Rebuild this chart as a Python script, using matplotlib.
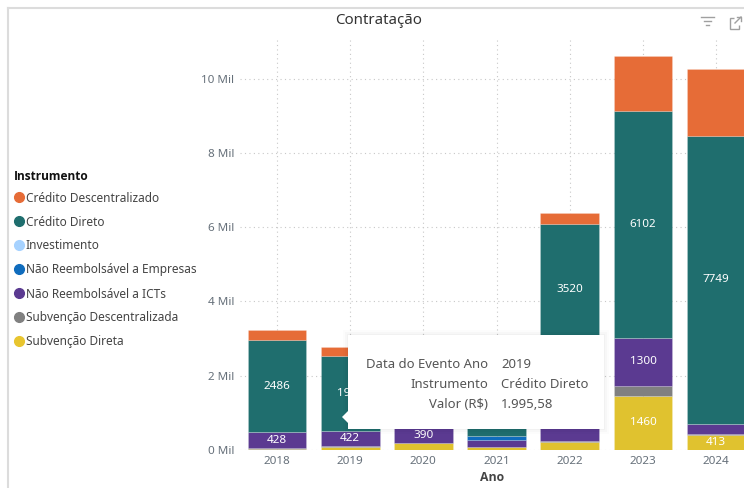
import matplotlib
matplotlib.use("Agg")
import matplotlib.pyplot as plt
from matplotlib.lines import Line2D
from matplotlib.patches import Polygon, Rectangle

plt.rcParams['font.family'] = ['Noto Sans', 'DejaVu Sans']

# -----------------------------------
# DATA (values in R$ mil)
# -----------------------------------
anos = ['2018', '2019', '2020', '2021', '2022', '2023', '2024']
instrumentos = ['Subvenção Direta', 'Subvenção Descentralizada', 'Não Reembolsável a ICTs',
                'Não Reembolsável a Empresas', 'Investimento', 'Crédito Direto',
                'Crédito Descentralizado']
sub_direta = [25, 80, 180, 80, 220, 1460, 413]
sub_descentralizada = [25, 20, 20, 10, 20, 260, 10]
nr_icts = [428, 422, 390, 170, 2320, 1300, 290]
nr_empresas = [0, 0, 0, 110, 0, 0, 0]
investimento = [0, 0, 0, 10, 0, 0, 0]
credito_direto = [2486, 1996, 1950, 1200, 3520, 6102, 7749]
credito_descentralizado = [266, 250, 300, 200, 310, 1490, 1790]

series = [sub_direta, sub_descentralizada, nr_icts, nr_empresas, investimento,
          credito_direto, credito_descentralizado]
cores = ['#E0C22F', '#808080', '#5B3A91', '#0F6CBD', '#A6D2FF', '#1F6E6E', '#E66C37']

rotulos_direta = ['', '', '', '', '', '1460', '413']
rotulos_icts = ['428', '422', '390', '', '', '1300', '']
rotulos_credito = ['2486', '1996', '', '', '3520', '6102', '7749']

yticks = [0, 2000, 4000, 6000, 8000, 10000]
ylabels = ['0 Mil', '2 Mil', '4 Mil', '6 Mil', '8 Mil', '10 Mil']

legenda = ['Crédito Descentralizado', 'Crédito Direto', 'Investimento',
           'Não Reembolsável a Empresas', 'Não Reembolsável a ICTs',
           'Subvenção Descentralizada', 'Subvenção Direta']
cores_legenda = ['#E66C37', '#1F6E6E', '#A6D2FF', '#0F6CBD', '#5B3A91', '#808080', '#E8C52F']

W, H = 744, 488


# pixel to figure coordinates
def fx(x):
    return x / W


def fy(y):
    return 1 - y / H


fig = plt.figure(figsize=(W / 100, H / 100), dpi=100)
ax = fig.add_axes([fx(240), fy(450), fx(744 - 240), (450 - 40) / H])

# -----------------------------------
# Stacked bars
# -----------------------------------
pos = list(range(len(anos)))
base = [0] * len(anos)
barras = []
for valores, cor in zip(series, cores):
    b = ax.bar(pos, valores, 0.805, bottom=base, color=cor, edgecolor='#ffffff33',
               linewidth=0.6, zorder=3)
    barras.append(b)
    base = [a + v for a, v in zip(base, valores)]

for b, rot in zip([barras[0], barras[2], barras[5]], [rotulos_direta, rotulos_icts, rotulos_credito]):
    ax.bar_label(b, labels=rot, label_type='center', color='white', fontsize=8.4, zorder=4)

ax.set_xlim(-0.505, 6.38)
ax.set_ylim(0, 11040)
ax.set_xticks(pos, anos)
ax.set_yticks(yticks, ylabels)
ax.tick_params(length=0, labelsize=8.4, labelcolor='#66707a', pad=4)
for t in ax.get_yticklabels():
    t.set_y(t.get_position()[1])
ax.grid(True, color='#c8c8c8', linestyle=(0, (1, 3)), linewidth=0.8, zorder=0)
ax.set_axisbelow(True)
for s in ax.spines.values():
    s.set_visible(False)
ax.set_xlabel('Ano', fontsize=8.8, fontweight='bold', family='Open Sans', color='#444444', labelpad=3)

# -----------------------------------
# Visual frame and title
# -----------------------------------
fig.add_artist(Line2D([fx(8), fx(744)], [fy(8), fy(8)], color='#dcdcdc', lw=1.5))
fig.add_artist(Line2D([fx(8), fx(8)], [fy(8), fy(488)], color='#dcdcdc', lw=1.5))
fig.text(fx(379), fy(20), 'Contratação', ha='center', va='center', fontsize=10.8, color='#333333')

# filter icon
for x0, x1, y in [(701, 714, 17), (704, 711, 21), (706, 709, 25)]:
    fig.add_artist(Line2D([fx(x0), fx(x1)], [fy(y), fy(y)], color='#a0a0a0', lw=1))
# expand icon
fig.add_artist(Polygon([(fx(739), fy(25)), (fx(739), fy(29)), (fx(730), fy(29)), (fx(730), fy(18)),
                        (fx(734), fy(18))], closed=False, fill=False, edgecolor='#a0a0a0', lw=1))
fig.add_artist(Line2D([fx(735), fx(741)], [fy(23), fy(17)], color='#a0a0a0', lw=1))
fig.add_artist(Line2D([fx(737), fx(741), fx(741)], [fy(17), fy(17), fy(21)], color='#a0a0a0', lw=1))

# -----------------------------------
# Legend
# -----------------------------------
fig.text(fx(14), fy(177), 'Instrumento', ha='left', va='center', fontsize=8.6, fontweight='bold',
         family='Open Sans', color='#111111')
for i, (nome, cor) in enumerate(zip(legenda, cores_legenda)):
    y = 197 + i * 24
    fig.add_artist(Line2D([fx(19)], [fy(y)], marker='o', markersize=7, color=cor, linestyle='none'))
    fig.text(fx(26), fy(y + 1), nome, ha='left', va='center', fontsize=8.55, color='#444444')

# -----------------------------------
# Tooltip
# -----------------------------------
for i, a in [(5, 0.012), (3, 0.018), (1, 0.025)]:
    fig.add_artist(Rectangle((fx(348 - i), fy(429 + i)), (256 + 2 * i) / W, (94 + 2 * i) / H,
                             facecolor='black', alpha=a, edgecolor='none', zorder=5))
fig.add_artist(Rectangle((fx(348), fy(429)), 256 / W, 94 / H, facecolor='white', edgecolor='none', zorder=6))
fig.add_artist(Polygon([(fx(349), fy(410)), (fx(342), fy(417)), (fx(349), fy(424))], facecolor='white',
                       edgecolor='none', zorder=6))

tooltip_nomes = ['Data do Evento Ano', 'Instrumento', 'Valor (R$)']
tooltip_valores = ['2019', 'Crédito Direto', '1.995,58']
for i, (n, v) in enumerate(zip(tooltip_nomes, tooltip_valores)):
    y = 364 + i * 20
    fig.text(fx(488), fy(y), n, ha='right', va='center', fontsize=9.45, color='#555555', zorder=7)
    fig.text(fx(501), fy(y), v, ha='left', va='center', fontsize=9.45, color='#555555', zorder=7)

plt.savefig('out.png', dpi=100)
